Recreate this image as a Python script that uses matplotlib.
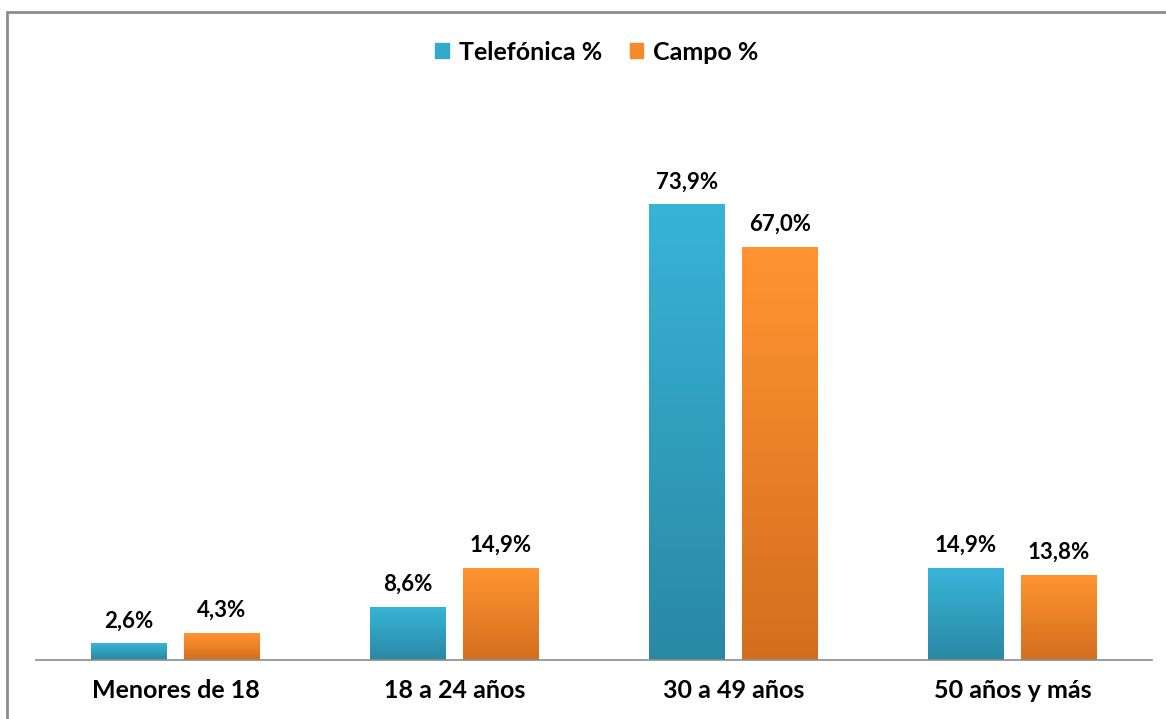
"""
Grouped bar chart: age distribution, telephone vs field survey.
"""
import numpy as np
import matplotlib.pyplot as plt
from matplotlib.colors import LinearSegmentedColormap
from matplotlib.patches import Rectangle

categories = ["Menores de 18", "18 a 24 años", "30 a 49 años", "50 años y más"]
telefonica = [2.6, 8.6, 73.9, 14.9]
campo = [4.3, 14.9, 67.0, 13.8]
series_names = ["Telefónica %", "Campo %"]

plt.rcParams["font.family"] = ["Lato", "DejaVu Sans"]

blue_cmap = LinearSegmentedColormap.from_list("b", ["#2a88a4", "#38b4d8"])
orange_cmap = LinearSegmentedColormap.from_list("o", ["#d46e1f", "#ff9430"])

fig = plt.figure(figsize=(11.66, 7.19), dpi=100)
ax = fig.add_axes([36 / 1166, 1 - 660 / 719, 1116 / 1166, 575 / 719])

x = np.arange(len(categories))
w = 0.272
off = 0.1667
bars_t = ax.bar(x - off, telefonica, w, color="#33aacc", label=series_names[0])
bars_c = ax.bar(x + off, campo, w, color="#f58a2a", label=series_names[1])

grad = np.linspace(0, 1, 256).reshape(-1, 1)
for bars, cmap in ((bars_t, blue_cmap), (bars_c, orange_cmap)):
    for b in bars:
        bx, bw, bh = b.get_x(), b.get_width(), b.get_height()
        b.set_visible(False)
        ax.imshow(grad, extent=[bx, bx + bw, 0, bh], origin="lower",
                  aspect="auto", cmap=cmap, zorder=2)
        ax.annotate(f"{bh:.1f}%".replace(".", ","), (bx + bw / 2, bh),
                    xytext=(0, 9), textcoords="offset points",
                    ha="center", va="bottom", fontsize=16, fontweight="bold")

ax.set_xlim(-0.5, len(categories) - 0.5)
ax.set_ylim(0, 575 / 6.157)
ax.set_xticks(x)
ax.set_xticklabels(categories, fontsize=18, fontweight="bold")
ax.tick_params(axis="x", length=0, pad=14)
ax.set_yticks([])
for s in ("top", "right", "left"):
    ax.spines[s].set_visible(False)
ax.spines["bottom"].set_color("#8c8c8c")
ax.spines["bottom"].set_linewidth(1.2)

handles = [Rectangle((0, 0), 1, 1, color="#33aacc"),
           Rectangle((0, 0), 1, 1, color="#f58a2a")]
fig.legend(handles, series_names, loc="center", bbox_to_anchor=(597 / 1166, 1 - 52 / 719),
           ncol=2, frameon=False, prop={"weight": "bold", "size": 18},
           handlelength=0.55, handleheight=0.55, handletextpad=0.4, columnspacing=1.1)

fig.patches.append(Rectangle((6.5 / 1166, -0.1), 1.2, 1.1 - 12.5 / 719,
                             transform=fig.transFigure, fill=False,
                             edgecolor="#8c8c8c", linewidth=2))

fig.savefig("out.png", dpi=100, facecolor="white")
